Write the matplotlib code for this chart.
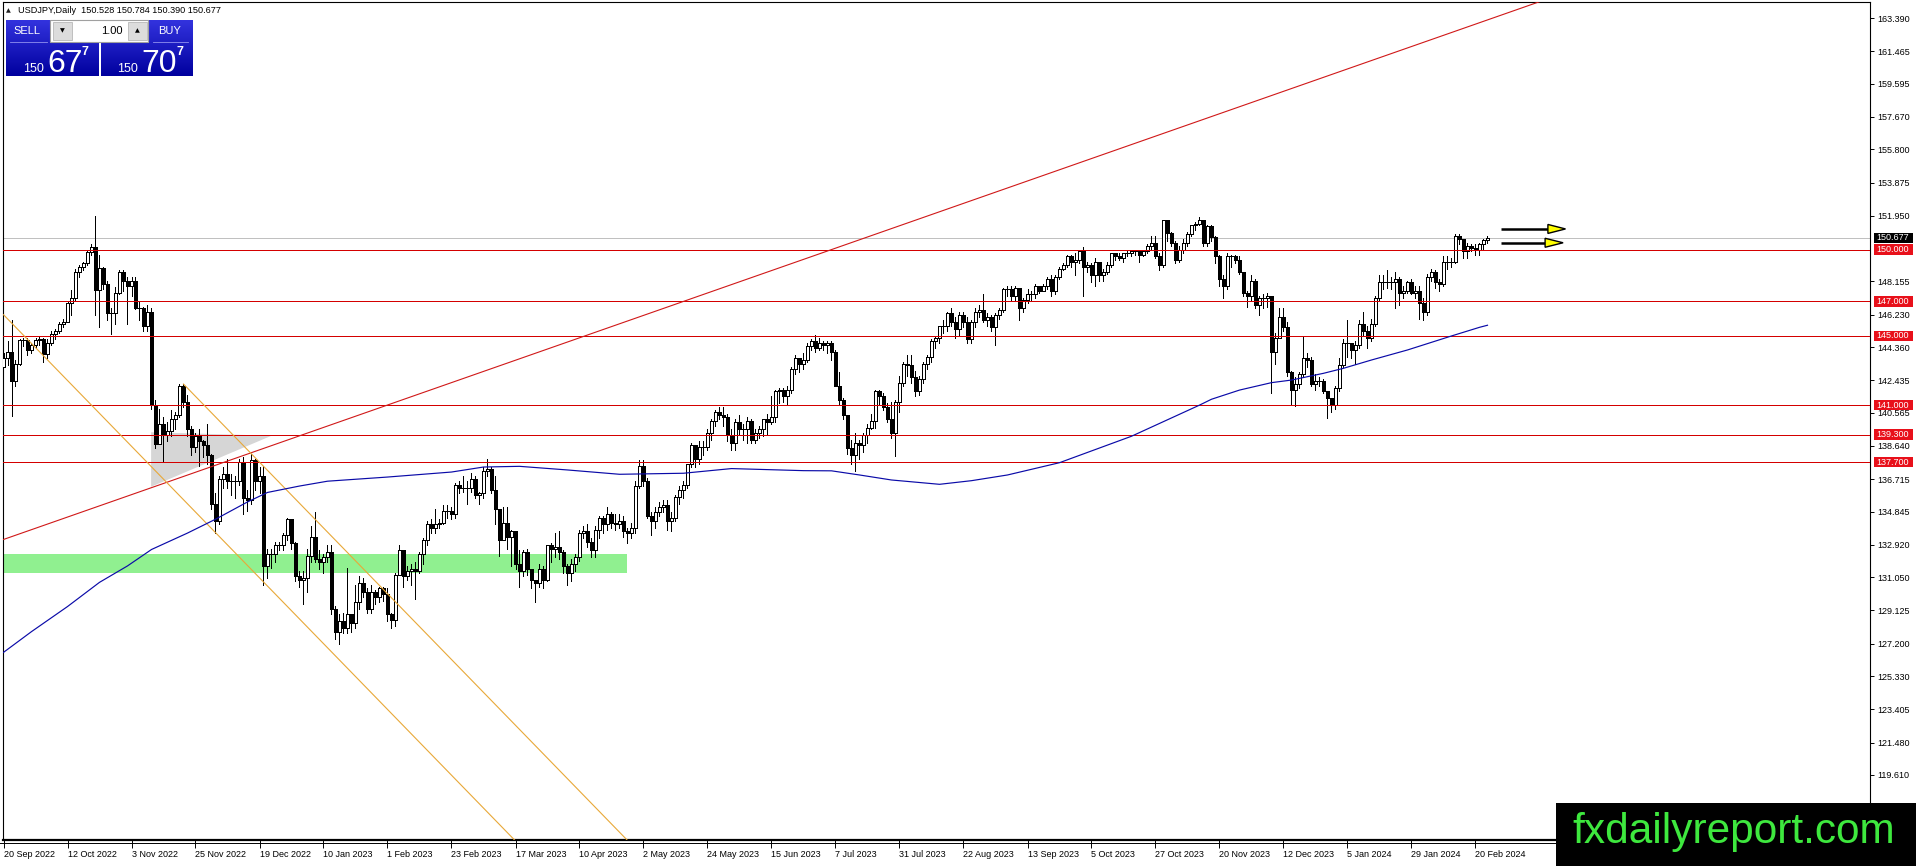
import numpy as np
import matplotlib
matplotlib.use('Agg')
import matplotlib.pyplot as plt
from matplotlib.patches import Rectangle, Polygon

plt.rcParams['font.family'] = ['Liberation Sans', 'DejaVu Sans']

# ---------------- data ----------------
open0 = 143.20
closes = [
143.75, 144.05, 142.40, 143.35, 144.75, 144.75, 144.20, 144.45, 144.75, 144.85,
143.95, 144.60, 145.10, 145.30, 145.70, 145.80, 146.90, 147.20, 148.70, 149.00,
149.20, 149.85, 150.15, 147.65, 148.95, 148.00, 146.35, 146.30, 147.50, 148.70,
148.20, 147.90, 148.15, 146.60, 146.60, 145.60, 146.40, 141.00, 138.75, 139.90,
139.30, 139.50, 140.20, 140.40, 142.10, 141.20, 139.60, 138.60, 139.20, 138.90,
138.70, 138.10, 135.30, 134.30, 136.70, 137.00, 136.60, 136.60, 136.60, 137.70,
135.60, 135.50, 137.80, 136.60, 136.90, 131.70, 132.40, 132.40, 132.90, 132.90,
133.50, 134.40, 133.00, 131.10, 130.90, 131.00, 132.30, 133.40, 132.10, 131.90,
132.20, 132.50, 129.20, 127.90, 128.50, 128.10, 128.90, 128.40, 129.60, 130.70,
130.20, 129.20, 130.20, 129.90, 130.40, 130.10, 128.90, 128.60, 131.20, 132.60,
131.10, 131.40, 131.50, 131.40, 132.40, 133.20, 134.10, 133.90, 134.10, 134.20,
134.90, 134.90, 134.70, 136.40, 136.20, 136.20, 136.20, 136.70, 135.80, 135.90,
137.20, 137.30, 136.10, 135.00, 133.20, 134.20, 133.40, 133.70, 131.80, 131.40,
132.50, 131.50, 130.90, 130.70, 131.50, 130.90, 132.90, 132.70, 132.80, 132.50,
131.70, 131.30, 131.80, 132.20, 133.60, 133.70, 133.10, 132.60, 133.80, 134.50,
134.10, 134.70, 134.20, 134.10, 134.30, 133.70, 133.60, 133.90, 136.30, 137.50,
136.60, 134.60, 134.30, 134.80, 135.10, 135.20, 134.30, 134.50, 135.70, 136.10,
136.40, 137.60, 138.70, 137.90, 138.60, 138.60, 139.40, 140.10, 140.60, 140.40,
140.30, 139.30, 138.80, 140.00, 139.60, 139.60, 140.10, 139.00, 139.40, 139.60,
140.20, 140.00, 140.30, 141.80, 141.90, 141.50, 141.90, 143.10, 143.70, 143.40,
143.60, 144.40, 144.70, 144.30, 144.60, 144.50, 144.60, 144.10, 142.10, 141.30,
140.40, 138.50, 138.10, 138.80, 138.70, 139.30, 139.70, 140.10, 141.80, 141.50,
140.90, 140.20, 139.40, 141.20, 142.30, 143.40, 143.30, 142.60, 141.80, 142.50,
143.40, 143.80, 144.70, 144.90, 145.60, 145.60, 146.30, 145.80, 145.40, 146.20,
145.80, 144.80, 145.80, 146.40, 146.50, 145.90, 146.10, 145.50, 146.20, 146.50,
147.70, 147.70, 147.30, 147.80, 146.60, 147.10, 147.40, 147.40, 147.90, 147.60,
147.90, 148.30, 147.60, 148.40, 148.90, 149.10, 149.60, 149.30, 149.40, 149.90,
149.00, 149.10, 148.50, 149.30, 148.50, 148.70, 149.10, 149.80, 149.60, 149.50,
149.80, 149.80, 149.90, 149.90, 149.70, 149.90, 150.20, 150.40, 149.60, 149.10,
151.70, 150.95, 150.40, 149.40, 150.00, 150.40, 150.90, 151.40, 151.50, 151.70,
150.40, 151.35, 150.70, 149.60, 148.30, 147.90, 149.60, 149.60, 149.40, 148.70,
147.50, 147.30, 148.20, 146.80, 147.20, 147.20, 147.30, 144.10, 144.90, 146.10,
145.50, 142.90, 141.90, 142.20, 142.80, 143.70, 143.60, 142.20, 142.40, 142.40,
141.80, 141.40, 141.00, 142.00, 143.30, 144.60, 144.60, 144.20, 144.50, 145.70,
145.30, 144.90, 145.70, 147.20, 148.10, 148.10, 148.10, 148.10, 148.30, 147.50,
147.60, 148.10, 147.50, 147.60, 146.90, 146.40, 148.40, 148.70, 148.10, 148.00,
149.30, 149.30, 149.30, 150.80, 150.60, 149.90, 150.20, 150.10, 150.00, 150.30,
150.53, 150.677]

highs = [
144.00, 144.70, 145.90, 143.60, 144.80, 144.90, 144.90, 144.60, 144.90, 145.00,
144.90, 144.80, 145.30, 145.40, 145.80, 146.00, 146.95, 147.65, 148.85, 149.10,
149.30, 149.90, 150.30, 151.95, 149.70, 149.00, 148.20, 146.60, 147.85, 148.80,
148.80, 148.40, 148.40, 148.40, 147.00, 146.70, 146.80, 146.60, 141.30, 140.80,
140.30, 140.00, 140.70, 140.60, 142.25, 142.20, 141.60, 139.80, 139.40, 139.60,
139.00, 139.90, 138.20, 135.90, 136.90, 137.40, 137.90, 137.00, 136.90, 137.90,
138.00, 136.10, 138.20, 137.90, 137.40, 137.50, 132.70, 132.70, 133.10, 133.10,
133.60, 134.50, 134.40, 133.10, 131.40, 131.40, 132.70, 134.00, 134.80, 132.60,
132.40, 132.90, 132.90, 129.40, 128.90, 129.00, 131.60, 128.90, 130.60, 131.10,
131.00, 130.40, 130.60, 130.30, 130.50, 130.50, 130.40, 129.00, 131.30, 132.90,
132.60, 131.70, 131.80, 131.90, 132.50, 133.30, 134.30, 134.40, 135.00, 134.40,
135.20, 135.20, 135.10, 136.50, 136.60, 136.90, 136.60, 137.10, 136.90, 136.00,
137.40, 137.90, 137.40, 136.90, 135.00, 135.10, 135.10, 133.80, 133.60, 132.60,
132.60, 132.70, 131.40, 130.90, 131.80, 131.70, 132.90, 133.00, 133.60, 133.70,
132.60, 131.80, 132.10, 132.40, 133.80, 134.00, 134.10, 133.30, 134.00, 134.60,
134.60, 135.10, 134.80, 134.70, 134.70, 134.60, 133.90, 134.20, 136.60, 137.80,
137.80, 136.80, 134.80, 135.10, 135.40, 135.50, 135.50, 134.80, 135.80, 136.30,
136.60, 137.60, 138.80, 138.70, 138.90, 138.90, 139.60, 140.20, 140.70, 140.90,
140.90, 140.50, 139.60, 140.20, 140.40, 139.90, 140.30, 140.20, 139.60, 139.80,
140.20, 140.50, 141.50, 141.90, 142.00, 142.00, 142.10, 143.20, 143.90, 143.60,
144.00, 144.60, 144.80, 145.07, 144.90, 144.70, 144.70, 144.70, 144.20, 142.90,
141.40, 140.40, 139.00, 139.40, 139.00, 139.40, 139.90, 140.50, 141.90, 141.90,
141.70, 141.10, 141.20, 141.30, 142.70, 143.50, 143.90, 143.90, 143.00, 142.70,
143.50, 143.90, 144.80, 145.00, 145.60, 145.90, 146.40, 146.60, 146.10, 146.40,
146.40, 146.10, 145.90, 146.60, 146.80, 147.40, 146.30, 146.20, 146.30, 146.60,
147.80, 147.90, 147.90, 147.90, 147.60, 147.20, 147.70, 147.60, 148.00, 147.90,
148.00, 148.40, 148.50, 148.50, 149.00, 149.20, 149.70, 149.70, 149.80, 149.90,
150.16, 149.30, 149.20, 149.50, 149.20, 148.90, 149.30, 149.80, 149.80, 149.80,
149.80, 149.90, 150.00, 150.00, 150.00, 150.00, 150.30, 150.80, 150.80, 149.80,
151.70, 151.70, 151.00, 150.50, 150.20, 150.60, 151.00, 151.40, 151.60, 151.90,
151.70, 151.40, 151.40, 150.80, 149.70, 148.50, 149.80, 149.70, 149.70, 149.60,
148.70, 147.60, 148.50, 148.30, 147.30, 147.40, 147.50, 147.30, 145.20, 146.60,
146.60, 145.80, 143.00, 142.60, 142.90, 144.95, 144.00, 143.80, 142.80, 142.60,
142.50, 141.80, 141.40, 142.10, 143.70, 144.80, 145.95, 144.60, 144.70, 145.90,
146.40, 145.60, 146.00, 147.30, 148.50, 148.50, 148.80, 148.40, 148.70, 148.40,
147.90, 148.20, 148.30, 147.90, 147.90, 147.20, 148.60, 148.90, 148.80, 148.30,
149.60, 149.60, 149.50, 150.90, 150.90, 150.60, 150.40, 150.30, 150.30, 150.40,
150.60, 150.784]

lows = [
143.20, 143.30, 140.35, 142.10, 143.30, 144.40, 143.90, 144.00, 144.30, 144.50,
143.50, 143.70, 144.50, 144.80, 145.20, 145.50, 145.80, 146.20, 147.10, 148.40,
148.80, 149.10, 149.70, 146.20, 145.50, 147.70, 145.90, 145.10, 145.70, 147.40,
147.60, 145.70, 147.30, 146.55, 145.90, 145.30, 145.30, 140.80, 138.50, 138.90,
137.70, 138.90, 139.20, 139.60, 140.30, 140.90, 139.20, 138.10, 138.30, 137.50,
138.00, 137.60, 135.00, 133.60, 134.10, 136.20, 136.20, 135.80, 135.60, 136.40,
134.70, 134.90, 135.30, 136.10, 135.90, 130.60, 131.00, 131.60, 131.90, 132.60,
132.60, 133.20, 132.70, 130.80, 130.50, 129.50, 130.20, 131.90, 131.90, 131.50,
131.30, 131.90, 128.90, 127.50, 127.20, 127.80, 127.80, 127.90, 128.10, 129.20,
129.90, 129.00, 129.00, 129.50, 129.60, 129.70, 128.50, 128.10, 128.20, 131.20,
130.50, 130.90, 130.60, 129.80, 131.30, 131.80, 132.90, 133.60, 133.60, 133.90,
134.10, 134.50, 134.40, 134.50, 135.90, 136.00, 135.30, 136.00, 135.60, 135.30,
135.60, 136.90, 135.90, 134.10, 132.30, 133.30, 132.70, 131.70, 131.50, 130.50,
131.10, 131.20, 130.40, 129.60, 130.50, 130.40, 130.80, 131.90, 132.20, 132.10,
131.30, 130.60, 130.80, 131.40, 132.00, 133.30, 132.80, 132.20, 132.20, 133.30,
133.60, 133.80, 133.90, 133.80, 133.90, 133.40, 133.00, 133.30, 133.60, 136.20,
136.30, 134.50, 133.50, 133.90, 134.60, 134.80, 133.80, 133.70, 134.30, 135.30,
135.60, 136.20, 137.40, 137.40, 137.60, 138.10, 138.40, 139.00, 139.80, 140.20,
139.80, 138.90, 138.40, 138.40, 139.30, 139.00, 138.80, 138.80, 138.80, 139.10,
139.20, 139.30, 139.90, 140.00, 141.10, 141.20, 141.00, 141.70, 142.80, 142.90,
143.10, 143.50, 144.20, 144.10, 144.20, 144.20, 144.00, 143.60, 142.10, 141.00,
140.20, 138.20, 137.60, 137.20, 137.90, 138.30, 138.80, 139.60, 139.70, 141.00,
140.70, 140.00, 139.10, 138.05, 140.60, 142.10, 142.70, 142.30, 141.50, 141.60,
142.30, 143.10, 143.50, 144.30, 144.60, 145.20, 145.30, 145.60, 144.90, 145.00,
145.50, 144.60, 144.60, 145.50, 146.10, 145.80, 145.60, 145.30, 144.50, 146.00,
146.40, 147.30, 147.00, 147.10, 145.90, 146.40, 146.90, 147.00, 147.20, 147.50,
147.60, 147.70, 147.30, 147.40, 148.30, 148.80, 149.00, 149.00, 148.50, 149.20,
147.30, 148.70, 148.10, 147.90, 148.20, 148.20, 148.60, 149.00, 149.40, 149.40,
149.30, 149.60, 149.60, 149.70, 149.30, 149.60, 149.80, 150.00, 149.50, 148.80,
149.00, 150.50, 150.20, 149.20, 149.30, 149.80, 150.20, 150.80, 151.10, 151.40,
150.20, 150.20, 150.50, 149.20, 147.90, 147.20, 147.70, 149.00, 149.20, 148.60,
147.30, 146.70, 147.00, 146.60, 146.20, 146.60, 146.70, 141.70, 143.40, 144.90,
145.30, 142.70, 141.00, 140.95, 142.00, 142.60, 143.20, 142.10, 141.90, 142.10,
141.70, 140.25, 140.60, 140.80, 141.80, 143.20, 143.80, 143.70, 143.40, 144.30,
145.00, 144.30, 144.70, 145.60, 147.00, 147.70, 147.80, 147.70, 146.60, 146.80,
147.20, 147.50, 147.40, 147.20, 146.00, 145.90, 146.20, 148.20, 147.80, 147.60,
147.90, 148.90, 149.00, 149.20, 150.30, 149.50, 149.50, 149.90, 149.70, 149.70,
150.00, 150.39]

# 200-period moving average
ma_bars = [0, 7, 16, 24, 31, 37, 46, 53, 61, 66, 74, 81, 96, 112, 120, 129, 141, 154,
           170, 182, 200, 207, 214, 222, 234, 242, 251, 264, 282, 299, 302, 309, 317,
           322, 330, 335, 342, 351, 362, 369, 371]
ma_vals = [126.70, 127.90, 129.35, 130.75, 131.70, 132.65, 133.60, 134.40, 135.40,
           135.95, 136.32, 136.60, 136.84, 137.13, 137.42, 137.46, 137.25, 137.00,
           137.06, 137.33, 137.21, 137.20, 136.96, 136.67, 136.42, 136.63, 136.96,
           137.67, 139.20, 141.00, 141.34, 141.87, 142.30, 142.45, 142.84, 143.13,
           143.61, 144.19, 145.00, 145.50, 145.62]

levels = [150.0, 147.0, 145.0, 141.0, 139.3, 137.7]
level_labels = ['150.000', '147.000', '145.000', '141.000', '139.300', '137.700']
bid = 150.677

tick_vals = [163.390, 161.465, 159.595, 157.670, 155.800, 153.875, 151.950, 148.155,
             146.230, 144.360, 142.435, 140.565, 138.640, 136.715, 134.845, 132.920,
             131.050, 129.125, 127.200, 125.330, 123.405, 121.480, 119.610]
tick_text = ['163.390', '161.465', '159.595', '157.670', '155.800', '153.875', '151.950',
             '148.155', '146.230', '144.360', '142.435', '140.565', '138.640', '136.715',
             '134.845', '132.920', '131.050', '129.125', '127.200', '125.330', '123.405',
             '121.480', '119.610']
date_bars = [0, 16, 32, 48, 64, 80, 96, 112, 128, 144, 160, 176, 192, 208, 224, 240,
             256, 272, 288, 304, 320, 336, 352, 368]
date_labels = ['20 Sep 2022', '12 Oct 2022', '3 Nov 2022', '25 Nov 2022', '19 Dec 2022',
               '10 Jan 2023', '1 Feb 2023', '23 Feb 2023', '17 Mar 2023', '10 Apr 2023',
               '2 May 2023', '24 May 2023', '15 Jun 2023', '7 Jul 2023', '31 Jul 2023',
               '22 Aug 2023', '13 Sep 2023', '5 Oct 2023', '27 Oct 2023', '20 Nov 2023',
               '12 Dec 2023', '5 Jan 2024', '29 Jan 2024', '20 Feb 2024']

# drawn objects (time in bar index, price)
trend_bars = [0, 372]
trend_prices = [133.23, 163.36]
chan_bars = [0, 45]
chan_prices = [146.23, 142.22]
chan_slope = -0.2378
band_bars = [-1, 155.9]
band_prices = [131.31, 132.39]
tri_bars = [36.9, 36.9, 67.0]
tri_prices = [139.43, 136.28, 139.23]
arrow_prices = [151.19, 150.39]
arrow_start = [374.5, 374.4]
arrow_head = [386.1, 385.4]
arrow_tip = [390.5, 389.9]

n = len(closes)
assert len(highs) == n and len(lows) == n

# ---------------- figure ----------------
W, H = 1916, 866
fig = plt.figure(figsize=(W / 100, H / 100), dpi=100)
L, R, T, B = 2.7, 1870, 1.7, 840
ax = fig.add_axes([L / W, 1 - B / H, (R - L) / W, (B - T) / H])

def px_to_price(y):
    return 163.39 - (y - 18) / 17.29

ax.set_xlim((L - 3.5) / 4, (R - 3.5) / 4)
ax.set_ylim(px_to_price(B), px_to_price(T))

c = np.array(closes)
o = np.r_[open0, c[:-1]]
h = np.maximum(np.array(highs), np.maximum(o, c))
l = np.minimum(np.array(lows), np.minimum(o, c))
x = np.arange(n)

ONE_PX = 0.72  # points per pixel at 100 dpi

# background objects
ax.add_patch(Rectangle((band_bars[0], band_prices[0]), band_bars[1] - band_bars[0],
                       band_prices[1] - band_prices[0], facecolor='#90f090',
                       edgecolor='none', zorder=1))
ax.add_patch(Polygon(list(zip(tri_bars, tri_prices)), closed=True, facecolor='#d6d6d6',
                     edgecolor='none', zorder=1))

# candles
ax.vlines(x, l, h, color='black', lw=ONE_PX, zorder=3, antialiased=False)
up = c >= o
ax.bar(x, np.abs(c - o), bottom=np.minimum(o, c), width=0.7,
       color=np.where(up, 'white', 'black'), edgecolor='black', linewidth=ONE_PX * 0.9,
       zorder=4, antialiased=False)

# lines
for lv in levels:
    ax.axhline(lv, color='#d40000', lw=ONE_PX, zorder=5, antialiased=False)
ax.axhline(bid, color='#c0c0c0', lw=ONE_PX, zorder=2, antialiased=False)
ax.axline((trend_bars[0], trend_prices[0]), (trend_bars[1], trend_prices[1]),
          color='#d01818', lw=0.8, zorder=5)
for b0, p0 in zip(chan_bars, chan_prices):
    ax.plot([b0, b0 + 250], [p0, p0 + 250 * chan_slope], color='#e8a838', lw=0.8, zorder=5)
ax.plot(ma_bars, ma_vals, color='#0a0aa8', lw=0.85, zorder=6)

# arrows
for p, a0, a1, a2 in zip(arrow_prices, arrow_start, arrow_head, arrow_tip):
    ax.plot([a0, a1], [p, p], color='black', lw=1.8, zorder=7, solid_capstyle='butt')
    ax.add_patch(Polygon([(a1, p + 0.26), (a1, p - 0.26), (a2, p)], closed=True,
                         facecolor='#ffff00', edgecolor='black', lw=1.0, zorder=8))

# axes styling
for s in ['top', 'left', 'right']:
    ax.spines[s].set_linewidth(0.8)
ax.spines['bottom'].set_linewidth(1.6)
ax.yaxis.tick_right()
ax.set_yticks(tick_vals, tick_text)
ax.tick_params(axis='y', length=2.6, width=0.7, pad=2.4, labelsize=6.5, colors='black')
ax.set_xticks(date_bars, date_labels)
ax.tick_params(axis='x', length=5.8, width=0.7, pad=1.2, labelsize=6.5)
for lbl in ax.get_xticklabels():
    lbl.set_ha('left')

# right-axis price labels
bx0 = (1874 - 3.5) / 4
bw = 39.0 / 4
bh = 10.5 / 17.29
for lv, txt in zip(levels, level_labels):
    ax.add_patch(Rectangle((bx0, lv - bh / 2), bw, bh, facecolor='#e8101a',
                           edgecolor='none', clip_on=False, zorder=10))
    ax.text(bx0 + 0.6, lv, txt, color='white', fontsize=6.5, va='center', ha='left',
            clip_on=False, zorder=11)
ax.add_patch(Rectangle((bx0, bid - bh / 2), bw, bh, facecolor='black',
                       edgecolor='none', clip_on=False, zorder=10))
ax.text(bx0 + 0.6, bid, '150.677', color='white', fontsize=6.5, va='center', ha='left',
        clip_on=False, zorder=11)

# ---------------- overlay (pixel coordinates) ----------------
ov = fig.add_axes([0, 0, 1, 1], zorder=20)
ov.set_xlim(0, W)
ov.set_ylim(H, 0)
ov.axis('off')

ov.plot([0, W], [843.3, 843.3], color='black', lw=0.7)

# title
ov.text(6, 10.7, '▲', fontsize=4.5, va='center', ha='left', color='#202020',
        family=['DejaVu Sans'])
ov.text(18.3, 10.7, 'USDJPY,Daily  150.528 150.784 150.390 150.677', fontsize=6.6,
        va='center', ha='left', color='black')

grad_top = np.array([0.20, 0.20, 0.87])
grad_bot = np.array([0.0, 0.0, 0.62])
tt = np.linspace(0, 1, 64)[:, None, None]
grad = (grad_top * (1 - tt) + grad_bot * tt)
for (x0, x1) in [(6, 99), (101, 193)]:
    ov.imshow(grad, extent=(x0, x1, 76, 20), origin='upper', aspect='auto',
              interpolation='bilinear', zorder=1)
# lot box
ov.add_patch(Rectangle((50, 19.5), 98.5, 22.5, facecolor='white', edgecolor='#a0a0a0',
                       lw=0.8, zorder=2))
for bxl in [53, 128]:
    ov.add_patch(Rectangle((bxl, 22), 19, 17.5, facecolor='#dcdcdc', edgecolor='#b8b8b8',
                           lw=0.6, zorder=3))
ov.text(62.5, 31, '▼', fontsize=4.5, ha='center', va='center', family=['DejaVu Sans'],
        zorder=4)
ov.text(137.5, 30.5, '▲', fontsize=4.5, ha='center', va='center', family=['DejaVu Sans'],
        zorder=4)
ov.text(123, 31, '1.00', fontsize=8, ha='right', va='center', color='black', zorder=4)
ov.plot([10, 47], [41.7, 41.7], color='#9090f0', lw=0.6, zorder=4)
ov.plot([153, 188], [41.7, 41.7], color='#9090f0', lw=0.6, zorder=4)
ov.text(27, 31.5, 'SELL', fontsize=8, ha='center', va='center', color='white', zorder=4)
ov.text(170, 31.5, 'BUY', fontsize=8, ha='center', va='center', color='white', zorder=4)
for (xs, xb, xp, big) in [(22.7, 47, 82, '67'), (116.7, 141, 176.5, '70')]:
    ov.text(xs, 71.5, '150', fontsize=9, ha='left', va='baseline', color='white', zorder=4)
    ov.text(xb, 71.5, big, fontsize=23, ha='left', va='baseline', color='white', zorder=4)
    ov.text(xp, 46, '7', fontsize=9, ha='left', va='top', color='white',
            fontweight='bold', zorder=4)

# watermark
ov.add_patch(Rectangle((1556, 803), W - 1556, H - 803, facecolor='black',
                       edgecolor='none', zorder=5))
ov.text(1734, 843, 'fxdailyreport.com', fontsize=30.5, ha='center', va='baseline',
        color='#3ee83e', zorder=6)

fig.savefig('out.png', dpi=100)
